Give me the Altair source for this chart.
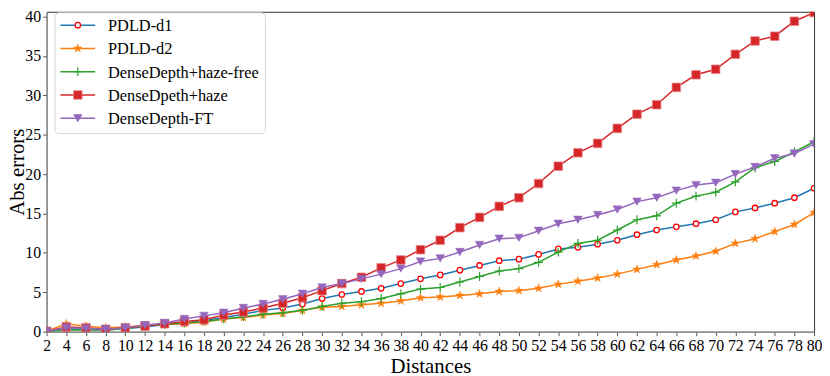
import altair as alt
import pandas as pd

distances = list(range(2, 81, 2))

pdld_d1 = [0.05, 0.3, 0.3, 0.2, 0.4, 0.6, 0.9, 1.1, 1.4, 1.8,
           2.2, 2.7, 3.0, 3.5, 4.2, 4.7, 5.1, 5.5, 6.1, 6.7,
           7.2, 7.8, 8.4, 9.0, 9.2, 9.8, 10.5, 10.7, 11.1, 11.6,
           12.3, 12.9, 13.3, 13.7, 14.2, 15.2, 15.7, 16.3, 17.0, 18.2]
pdld_d2 = [0.05, 1.0, 0.7, 0.5, 0.6, 0.8, 0.9, 1.0, 1.2, 1.6,
           1.8, 2.1, 2.3, 2.7, 3.1, 3.2, 3.4, 3.6, 3.9, 4.3,
           4.4, 4.6, 4.8, 5.1, 5.2, 5.5, 6.0, 6.4, 6.8, 7.3,
           7.9, 8.5, 9.1, 9.6, 10.2, 11.2, 11.8, 12.7, 13.6, 15.1]
dd_haze_free = [0.05, 0.2, 0.2, 0.2, 0.4, 0.7, 0.9, 1.1, 1.3, 1.6,
                1.9, 2.2, 2.4, 2.7, 3.2, 3.6, 3.8, 4.2, 4.8, 5.4,
                5.6, 6.3, 7.0, 7.7, 8.0, 8.8, 10.1, 11.2, 11.6, 12.9,
                14.2, 14.7, 16.3, 17.2, 17.7, 19.0, 20.8, 21.6, 22.8, 24.1]
dd_haze = [0.05, 0.6, 0.5, 0.3, 0.5, 0.7, 1.0, 1.3, 1.5, 2.1,
           2.5, 3.0, 3.6, 4.3, 5.2, 6.1, 6.9, 8.1, 9.1, 10.4,
           11.6, 13.2, 14.5, 15.9, 17.0, 18.8, 21.0, 22.7, 23.9, 25.8,
           27.6, 28.8, 31.0, 32.6, 33.3, 35.2, 36.9, 37.5, 39.4, 40.5]
dd_ft = [0.05, 0.5, 0.4, 0.3, 0.5, 0.8, 1.1, 1.6, 2.0, 2.4,
         3.0, 3.5, 4.1, 4.8, 5.6, 6.1, 6.7, 7.3, 8.0, 8.9,
         9.3, 10.1, 11.0, 11.8, 11.9, 12.8, 13.7, 14.2, 14.8, 15.5,
         16.5, 17.0, 17.9, 18.6, 18.9, 20.0, 20.9, 22.0, 22.6, 23.8]

names = ["PDLD-d1", "PDLD-d2", "DenseDepth+haze-free", "DenseDpeth+haze", "DenseDepth-FT"]
series = [pdld_d1, pdld_d2, dd_haze_free, dd_haze, dd_ft]

STAR = ("M0,-1L0.225,-0.309L0.951,-0.309L0.363,0.118L0.588,0.809L0,0.382"
        "L-0.588,0.809L-0.363,0.118L-0.951,-0.309L-0.225,-0.309Z")
PLUS = "M-1,0H1M0,-1V1"

styles = {
    "PDLD-d1": dict(line="#1f77b4", shape="circle", fill="white", stroke="red", size=30, sw=1.3),
    "PDLD-d2": dict(line="#ff7f0e", shape=STAR, fill="#ff7f0e", stroke="#ff7f0e", size=80, sw=0.5),
    "DenseDepth+haze-free": dict(line="#2ca02c", shape=PLUS, fill="transparent", stroke="#2ca02c", size=80, sw=1.2),
    "DenseDpeth+haze": dict(line="#d62728", shape="square", fill="#d62728", stroke="#e8868a", size=75, sw=0.8),
    "DenseDepth-FT": dict(line="#9467bd", shape="triangle-down", fill="#9467bd", stroke="#9467bd", size=75, sw=0.5),
}

rows = []
for n, vals in zip(names, series):
    assert len(vals) == len(distances)
    for d, v in zip(distances, vals):
        rows.append({"dist": d, "err": v, "name": n})
df = pd.DataFrame(rows)

FONT = "Liberation Serif"
W, H = 775, 323

xenc = alt.X("dist:Q",
             scale=alt.Scale(domain=[2, 80], nice=False, zero=False),
             axis=alt.Axis(values=distances, title="Distances", grid=False,
                           labelFont=FONT, labelFontSize=16, labelColor="black",
                           titleFont=FONT, titleFontSize=21, titleFontWeight="normal",
                           titleColor="black", tickSize=4, labelPadding=2,
                           titlePadding=2, labelFlush=False, labelOverlap=False,
                           domainColor="#999", tickColor="#555"))
yenc = alt.Y("err:Q",
             scale=alt.Scale(domain=[0, 40.6], nice=False),
             axis=alt.Axis(values=[0, 5, 10, 15, 20, 25, 30, 35, 40], title="Abs errors",
                           grid=False, labelFont=FONT, labelFontSize=16,
                           labelColor="black", titleFont=FONT, titleFontSize=21,
                           titleFontWeight="normal", titleColor="black", tickSize=4,
                           labelPadding=2, titleX=-23.5, titleBaseline="alphabetic",
                           labelFlush=False, domainColor="#999", tickColor="#555"))

base = alt.Chart(df)
main_layers = []
for n in names:
    s = styles[n]
    sub = base.transform_filter(alt.datum.name == n)
    main_layers.append(
        sub.mark_line(color=s["line"], strokeWidth=1.5, clip=True).encode(x=xenc, y=yenc)
    )
    main_layers.append(
        sub.mark_point(shape=s["shape"], filled=True, fill=s["fill"], stroke=s["stroke"],
                       strokeWidth=s["sw"], size=s["size"], opacity=1, clip=True)
        .encode(x=xenc, y=yenc)
    )
main = alt.layer(*main_layers)

# legend
leg_df = pd.DataFrame({"name": names})
ly = alt.Y("name:N", scale=alt.Scale(type="point", domain=names, range=[13.5, 107.5], padding=0),
           axis=None)
lbase = alt.Chart(leg_df)
legend_layers = [
    lbase.mark_rect(fill="white", stroke="#d0d0d0", strokeWidth=1, cornerRadius=4, opacity=0.9)
    .encode(x=alt.value(8.5), x2=alt.value(221), y=alt.value(1), y2=alt.value(123))
    .transform_filter(alt.datum.name == names[0])
]
for n in names:
    s = styles[n]
    sub = lbase.transform_filter(alt.datum.name == n)
    legend_layers.append(
        sub.mark_rule(color=s["line"], strokeWidth=1.5).encode(x=alt.value(14), x2=alt.value(49), y=ly)
    )
    legend_layers.append(
        sub.mark_point(shape=s["shape"], filled=True, fill=s["fill"], stroke=s["stroke"],
                       strokeWidth=s["sw"], size=s["size"], opacity=1)
        .encode(x=alt.value(31.5), y=ly)
    )
legend_layers.append(
    lbase.mark_text(align="left", baseline="middle", font=FONT, fontSize=16.5, color="black", dy=1)
    .encode(x=alt.value(62), y=ly, text="name:N")
)
legend = alt.layer(*legend_layers)

chart = (
    alt.layer(main, legend)
    .resolve_scale(y="independent", x="independent")
    .properties(width=W, height=H, padding={"left": 39, "top": 2, "right": 8, "bottom": 44},
                autosize=alt.AutoSizeParams(type="none"), background="white")
    .configure_view(stroke="#333", strokeWidth=1)
)

chart.save("out.html", embed_options={"renderer": "svg", "actions": False})
